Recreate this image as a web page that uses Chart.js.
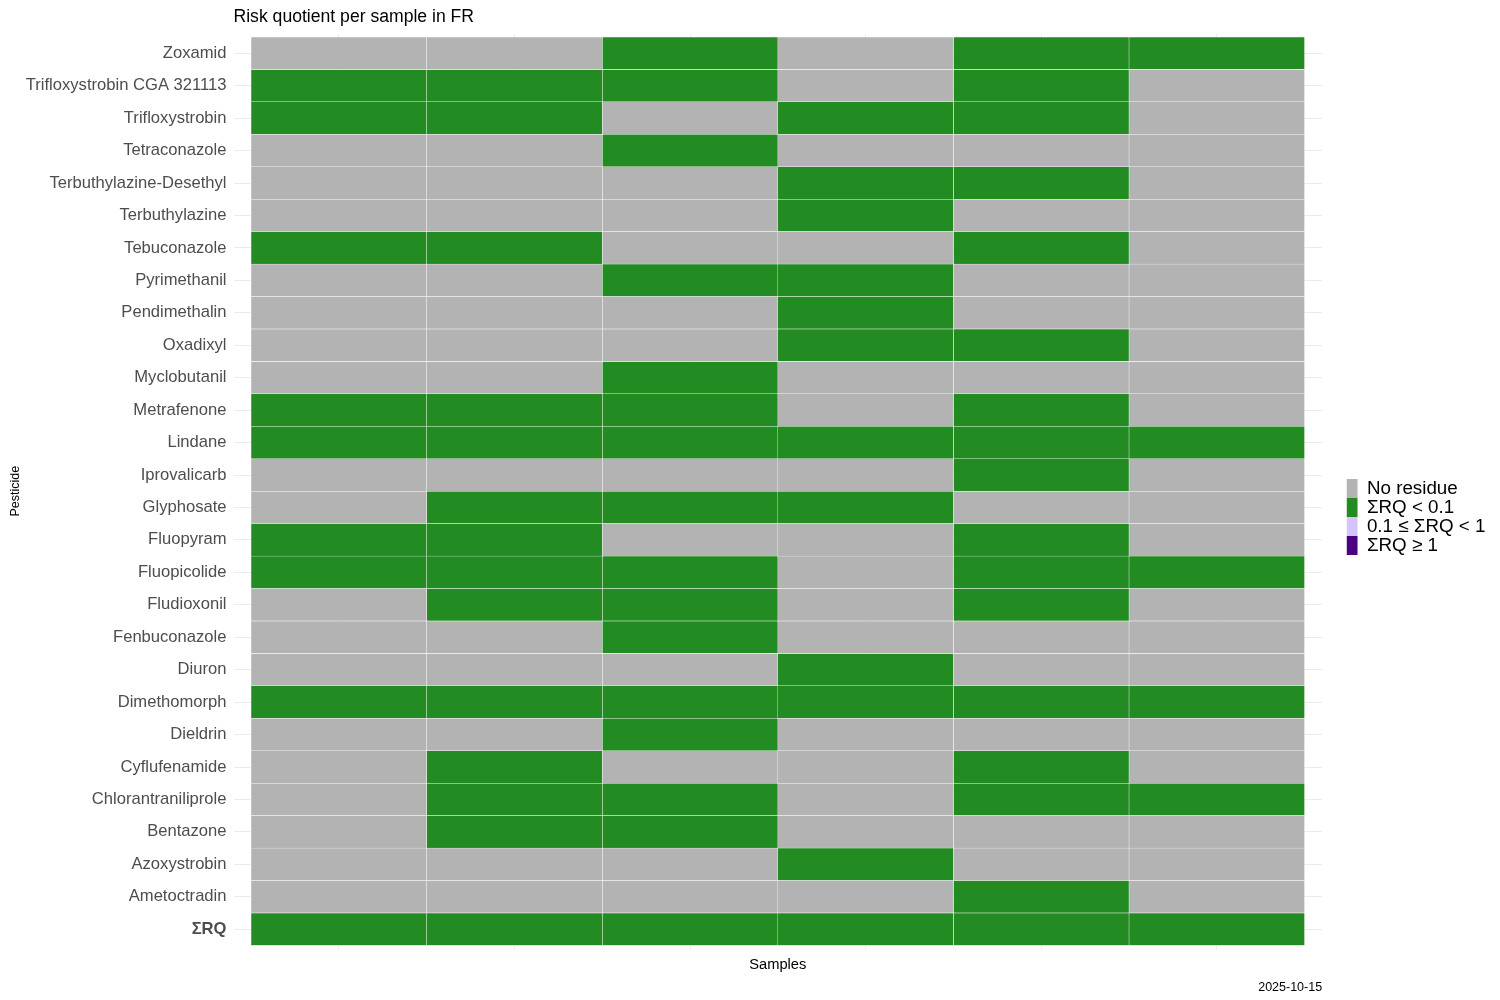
<!DOCTYPE html>
<html>
<head>
<meta charset="utf-8">
<script src="https://cdn.jsdelivr.net/npm/chart.js@4.4.0/dist/chart.umd.min.js"></script>
<style>
  html, body { margin: 0; padding: 0; background: #ffffff; }
  #wrap { width: 1500px; height: 1000px; position: relative; }
</style>
</head>
<body>
<div id="wrap"><canvas id="c" width="1500" height="1000"></canvas></div>
<script>
// ---------- data ----------
const pesticides = [
  "Zoxamid", "Trifloxystrobin CGA 321113", "Trifloxystrobin", "Tetraconazole",
  "Terbuthylazine-Desethyl", "Terbuthylazine", "Tebuconazole", "Pyrimethanil",
  "Pendimethalin", "Oxadixyl", "Myclobutanil", "Metrafenone", "Lindane",
  "Iprovalicarb", "Glyphosate", "Fluopyram", "Fluopicolide", "Fludioxonil",
  "Fenbuconazole", "Diuron", "Dimethomorph", "Dieldrin", "Cyflufenamide",
  "Chlorantraniliprole", "Bentazone", "Azoxystrobin", "Ametoctradin", "ΣRQ"
];
const samples = ["Sample 1", "Sample 2", "Sample 3", "Sample 4", "Sample 5", "Sample 6"];

// status codes: 0 = No residue, 1 = ΣRQ < 0.1, 2 = 0.1 ≤ ΣRQ < 1, 3 = ΣRQ ≥ 1
const sample1 = [0,1,1,0,0,0,1,0,0,0,0,1,1,0,0,1,1,0,0,0,1,0,0,0,0,0,0,1];
const sample2 = [0,1,1,0,0,0,1,0,0,0,0,1,1,0,1,1,1,1,0,0,1,0,1,1,1,0,0,1];
const sample3 = [1,1,0,1,0,0,0,1,0,0,1,1,1,0,1,0,1,1,1,0,1,1,0,1,1,0,0,1];
const sample4 = [0,0,1,0,1,1,0,1,1,1,0,0,1,0,1,0,0,0,0,1,1,0,0,0,0,1,0,1];
const sample5 = [1,1,1,0,1,0,1,0,0,1,0,1,1,1,0,1,1,1,0,0,1,0,1,1,0,0,1,1];
const sample6 = [1,0,0,0,0,0,0,0,0,0,0,0,1,0,0,0,1,0,0,0,1,0,0,1,0,0,0,1];
const sampleStatus = [sample1, sample2, sample3, sample4, sample5, sample6];

const statusLabels = ["No residue", "ΣRQ < 0.1", "0.1 ≤ ΣRQ < 1", "ΣRQ ≥ 1"];
const statusColors = ["#b3b3b3", "#228b22", "#d4c4fb", "#4b0082"];

const titleText = "Risk quotient per sample in FR";
const captionText = "2025-10-15";

// ---------- chart ----------
const FONT = '"Liberation Sans", Arial, Helvetica, sans-serif';
Chart.defaults.font.family = FONT;
Chart.defaults.color = "#000000";

const datasets = samples.map((name, s) => ({
  label: name,
  xAxisID: "x",
  yAxisID: "y",
  data: pesticides.map((p, i) => ({ x: [s, s + 1], y: i })),
  backgroundColor: sampleStatus[s].map(code => statusColors[code]),
  borderColor: "#ffffff",
  borderWidth: 0.5,
  borderSkipped: false,
  grouped: false,
  barPercentage: 1,
  categoryPercentage: 1
}));

const textPlugin = {
  id: "textPlugin",
  afterDraw(chart) {
    const ctx = chart.ctx;
    const area = chart.chartArea;
    ctx.save();
    ctx.fillStyle = "#000000";
    ctx.textBaseline = "alphabetic";
    ctx.textAlign = "left";
    ctx.font = "17.6px " + FONT;
    ctx.fillText(titleText, area.left, 22);
    ctx.textAlign = "right";
    ctx.font = "12.5px " + FONT;
    ctx.fillText(captionText, area.right, 991);
    ctx.restore();
  }
};

new Chart(document.getElementById("c"), {
  type: "bar",
  data: { datasets },
  plugins: [textPlugin],
  options: {
    indexAxis: "y",
    responsive: false,
    animation: false,
    devicePixelRatio: 1,
    layout: { padding: { left: 0, right: 4.6, top: 33.8, bottom: 0 } },
    scales: {
      x: {
        type: "linear",
        position: "bottom",
        offset: false,
        min: -0.1,
        max: 6.1,
        afterBuildTicks(scale) {
          scale.ticks = samples.map((s, i) => ({ value: i + 0.5 }));
        },
        ticks: { display: false },
        grid: { color: "#ebebeb", lineWidth: 1, drawTicks: false, offset: false, z: -1 },
        border: { display: false },
        title: {
          display: true,
          text: "Samples",
          color: "#000000",
          font: { size: 14.7, family: FONT },
          padding: { top: 26.6, bottom: 26.6 }
        },
        afterFit(scale) { scale.height = 51.3; }
      },
      y: {
        type: "linear",
        position: "left",
        reverse: true,
        offset: false,
        min: -0.6,
        max: pesticides.length - 1 + 0.6,
        afterBuildTicks(scale) {
          scale.ticks = pesticides.map((p, i) => ({ value: i }));
        },
        ticks: {
          autoSkip: false,
          padding: 7,
          color: "#4d4d4d",
          callback: (v) => pesticides[v],
          font: (ctx) => ({
            size: 16.6,
            family: FONT,
            weight: (ctx.tick && ctx.tick.value === pesticides.length - 1) ? "bold" : "normal"
          })
        },
        grid: { color: "#ebebeb", lineWidth: 1, drawTicks: false, offset: false, z: -1 },
        border: { display: false },
        title: {
          display: true,
          text: "Pesticide",
          color: "#000000",
          font: { size: 12.5, family: FONT },
          padding: { top: 8, bottom: 8 }
        },
        afterFit(scale) { scale.width = 233.5; }
      },
      spacer: {
        type: "linear",
        position: "right",
        display: true,
        ticks: { display: false },
        grid: { display: false, drawTicks: false },
        border: { display: false },
        afterFit(scale) { scale.width = 24.4; }
      }
    },
    plugins: {
      tooltip: { enabled: false },
      title: { display: false },
      legend: {
        display: true,
        position: "right",
        align: "center",
        maxHeight: 916,
        labels: {
          padding: 0,
          boxWidth: 11,
          boxHeight: 19,
          color: "#000000",
          font: { size: 18.8, family: FONT },
          generateLabels: () => statusLabels.map((t, i) => ({
            text: t,
            fillStyle: statusColors[i],
            strokeStyle: statusColors[i],
            lineWidth: 0,
            hidden: false,
            datasetIndex: i
          }))
        }
      }
    }
  }
});
</script>
</body>
</html>
